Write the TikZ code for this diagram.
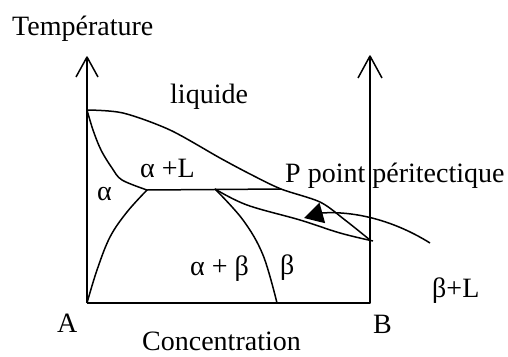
\documentclass[tikz,border=0pt]{standalone}
\usepackage{fontspec}
\setmainfont{Liberation Serif}
\usetikzlibrary{arrows.meta,calc}
\begin{document}
\begin{tikzpicture}[x=1pt,y=-1pt,
  ln/.style={line width=1.5pt,line join=round},
  lbl/.style={anchor=base west,inner sep=0pt,font=\fontsize{28}{32}\selectfont}]
\useasboundingbox (0,0) rectangle (508,356);
% key points
\coordinate (O) at (87,303);
\coordinate (Atop) at (87,57);
\coordinate (Bb) at (370,303);
\coordinate (Btop) at (370,56);
\coordinate (M) at (87,110);
\coordinate (E) at (147,190);
\coordinate (Q) at (215,189);
\coordinate (R) at (281,189);
\coordinate (P) at (370,240);
\coordinate (Pend) at (373,241);
\coordinate (S) at (277,303);
\coordinate (T0) at (430,243);
\coordinate (Tip) at (304,218);
% axes
\draw[ln] (O) -- (Atop);
\draw[ln] ($(Atop)+(-11,20)$) -- (Atop) -- ($(Atop)+(11,20)$);
\draw[ln] (O) -- (Bb) -- (Btop);
\draw[ln] ($(Btop)+(-12,22)$) -- (Btop) -- ($(Btop)+(12,22)$);
% liquidus
\draw[ln] plot[smooth,tension=0.5] coordinates {(M) (123,113) (170,130) (220,158) (250,174) (R) (320,202) (345,220) (P)};
% alpha solidus
\draw[ln] plot[smooth,tension=0.55] coordinates {(M) (93,130) (101,150) (112,168) (122,180) (E)};
% peritectic line
\draw[ln] (E) -- (R);
% alpha solvus
\draw[ln] plot[smooth,tension=0.6] coordinates {(E) (127,212) (110,237) (97,270) (O)};
% beta solvus
\draw[ln] plot[smooth,tension=0.6] coordinates {(Q) (243,220) (263,255) (S)};
% beta liquidus
\draw[ln] plot[smooth,tension=0.6] coordinates {(Q) (247,205) (300,220) (340,233) (Pend)};
% arrow
\draw[ln,-{Triangle[length=19pt,width=21pt]}] (T0) .. controls (390,218) and (350,211) .. (322,213) -- (Tip);
% labels
\node[lbl] (temp) at (12,35) {Température};
\node[lbl] (liq) at (170,103) {liquide};
\node[lbl] (aL) at (140,177) {α +L};
\node[lbl] (a) at (97,200) {α};
\node[lbl] (pp) at (285,182) {P point péritectique};
\node[lbl] (ab) at (190,275) {α + β};
\node[lbl] (b) at (280,274) {β};
\node[lbl] (bL) at (432,297) {β+L};
\node[lbl] (lA) at (57,332) {A};
\node[lbl] (lB) at (373,333) {B};
\node[lbl] (conc) at (142,350) {Concentration};
\end{tikzpicture}
\end{document}
